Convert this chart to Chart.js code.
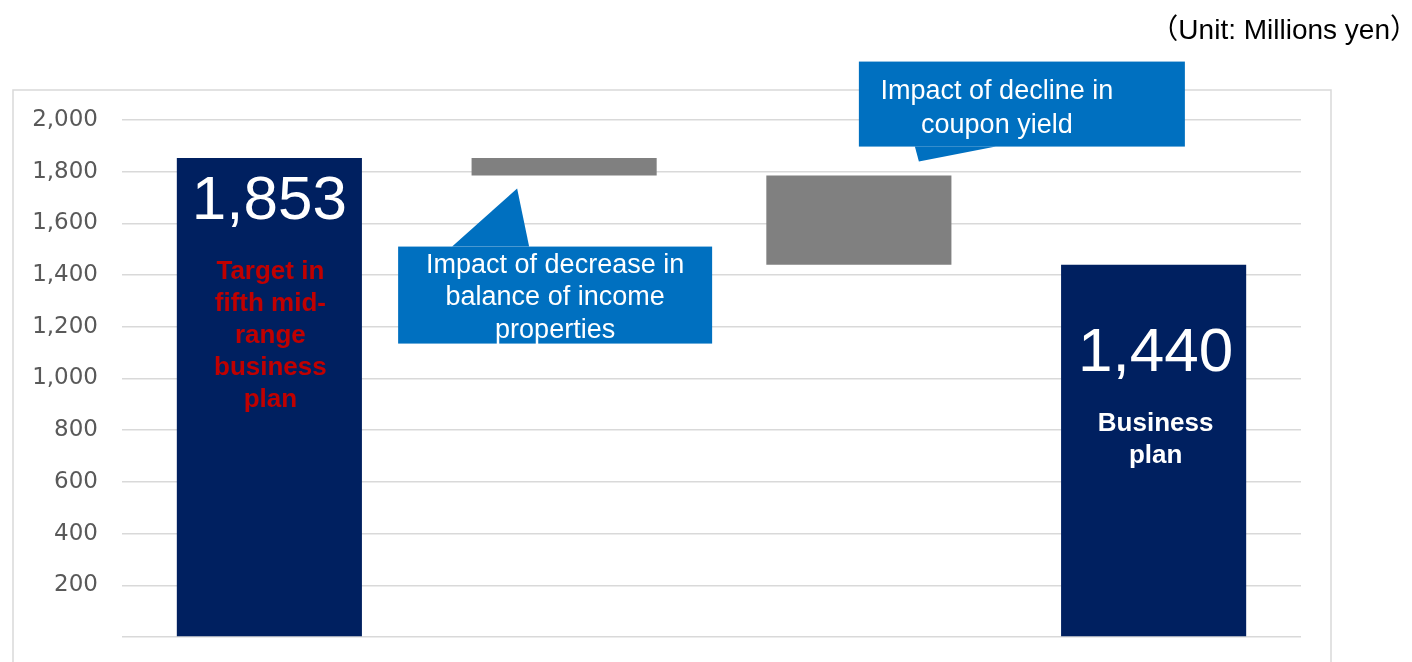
<!DOCTYPE html>
<html>
<head>
<meta charset="utf-8">
<script src="https://cdn.jsdelivr.net/npm/chart.js@4"></script>
<style>
  html, body { margin: 0; padding: 0; background: #fff; overflow: hidden; }
  canvas { display: block; }
</style>
</head>
<body>
<canvas id="c" width="1412" height="662"></canvas>
<script>
// categories of the waterfall
const categories = ['Target in fifth mid-range business plan', 'Impact of decrease in balance of income properties', 'Impact of decline in coupon yield', 'Business plan'];
const startTotal = 1853;
const steps = [-68, -345];   // 1853 -> 1785 -> 1440
const endTotal = 1440;
const barColors = ['#002060', '#808080', '#808080', '#002060'];
const yMin = 0, yMax = 2000, yStep = 200;

// build floating ranges
const ranges = [[0, startTotal]];
let run = startTotal;
steps.forEach(s => {
  const next = run + s;
  ranges.push([Math.min(run, next), Math.max(run, next)]);
  run = next;
});
ranges.push([0, endTotal]);

const fmt = v => v.toLocaleString('en-US');

const overlay = {
  id: 'overlay',
  beforeDraw(chart) {
    const ctx = chart.ctx;
    ctx.save();
    ctx.strokeStyle = '#d9d9d9';
    ctx.lineWidth = 1.5;
    ctx.strokeRect(13, 90, 1318, 600);
    ctx.fillStyle = '#000';
    ctx.font = '28px "Liberation Sans", "Noto Sans CJK JP", sans-serif';
    ctx.textAlign = 'right';
    ctx.textBaseline = 'alphabetic';
    ctx.fillText('（Unit: Millions yen）', 1418, 39);
    ctx.restore();
  },
  afterDatasetsDraw(chart) {
    const ctx = chart.ctx;
    const meta = chart.getDatasetMeta(0);
    const b = meta.data;
    ctx.save();
    ctx.textAlign = 'center';
    ctx.textBaseline = 'alphabetic';

    // totals on navy bars
    ctx.fillStyle = '#fff';
    ctx.font = '62px "Liberation Sans", Arial, sans-serif';
    ctx.fillText(fmt(startTotal), b[0].x, b[0].y + 61);
    ctx.fillText(fmt(endTotal), b[3].x + 2, b[3].y + 106);

    ctx.fillStyle = '#c00000';
    ctx.font = 'bold 26px "Liberation Sans", Arial, sans-serif';
    ['Target in', 'fifth mid-', 'range', 'business', 'plan'].forEach((t, i) => {
      ctx.fillText(t, b[0].x + 1, b[0].y + 121 + i * 32);
    });
    ctx.fillStyle = '#fff';
    ['Business', 'plan'].forEach((t, i) => {
      ctx.fillText(t, b[3].x + 2, b[3].y + 166 + i * 32);
    });

    // callout 1 (below first gray bar)
    const tip1x = b[1].x - 47, tip1y = b[1].base + 13;
    ctx.fillStyle = '#0070c0';
    ctx.beginPath();
    ctx.moveTo(tip1x - 65, tip1y + 58);
    ctx.lineTo(tip1x, tip1y);
    ctx.lineTo(tip1x + 12, tip1y + 58);
    ctx.closePath();
    ctx.fill();
    ctx.fillRect(tip1x - 119, tip1y + 58, 314, 97);
    ctx.fillStyle = '#fff';
    ctx.font = '27px "Liberation Sans", Arial, sans-serif';
    ['Impact of decrease in', 'balance of income', 'properties'].forEach((t, i) => {
      ctx.fillText(t, tip1x + 38, tip1y + 84 + i * 32.5);
    });

    // callout 2 (above second gray bar)
    const tip2x = b[2].x + 60, tip2y = b[2].y - 14;
    ctx.fillStyle = '#0070c0';
    ctx.beginPath();
    ctx.moveTo(tip2x - 4, tip2y - 15);
    ctx.lineTo(tip2x, tip2y);
    ctx.lineTo(tip2x + 77, tip2y - 15);
    ctx.closePath();
    ctx.fill();
    ctx.fillRect(tip2x - 60, tip2y - 100, 326, 85);
    ctx.fillStyle = '#fff';
    ['Impact of decline in', 'coupon yield'].forEach((t, i) => {
      ctx.fillText(t, tip2x + 78, tip2y - 63 + i * 34);
    });
    ctx.restore();
  }
};

new Chart(document.getElementById('c'), {
  type: 'bar',
  data: {
    labels: categories,
    datasets: [{
      data: ranges,
      backgroundColor: barColors,
      borderWidth: 0,
      categoryPercentage: 1,
      barPercentage: 0.628
    }]
  },
  options: {
    responsive: false,
    animation: false,
    events: [],
    layout: { padding: { left: 12, right: 111, top: 120, bottom: 25 } },
    plugins: { legend: { display: false }, tooltip: { enabled: false } },
    scales: {
      x: { display: false },
      y: {
        min: yMin, max: yMax,
        afterFit: s => {
          s.width = 110;
          // tick padding would otherwise push the plot bottom up
          s.paddingTop = 14;
          s.paddingBottom = 14;
        },
        border: { display: false },
        grid: { color: '#d9d9d9', lineWidth: 1.5, drawTicks: false },
        ticks: {
          stepSize: yStep,
          padding: 24,
          color: '#595959',
          font: { family: '"DejaVu Sans", sans-serif', size: 23 },
          callback: v => v === 0 ? '' : fmt(v)
        }
      }
    }
  },
  plugins: [overlay]
});
</script>
</body>
</html>
